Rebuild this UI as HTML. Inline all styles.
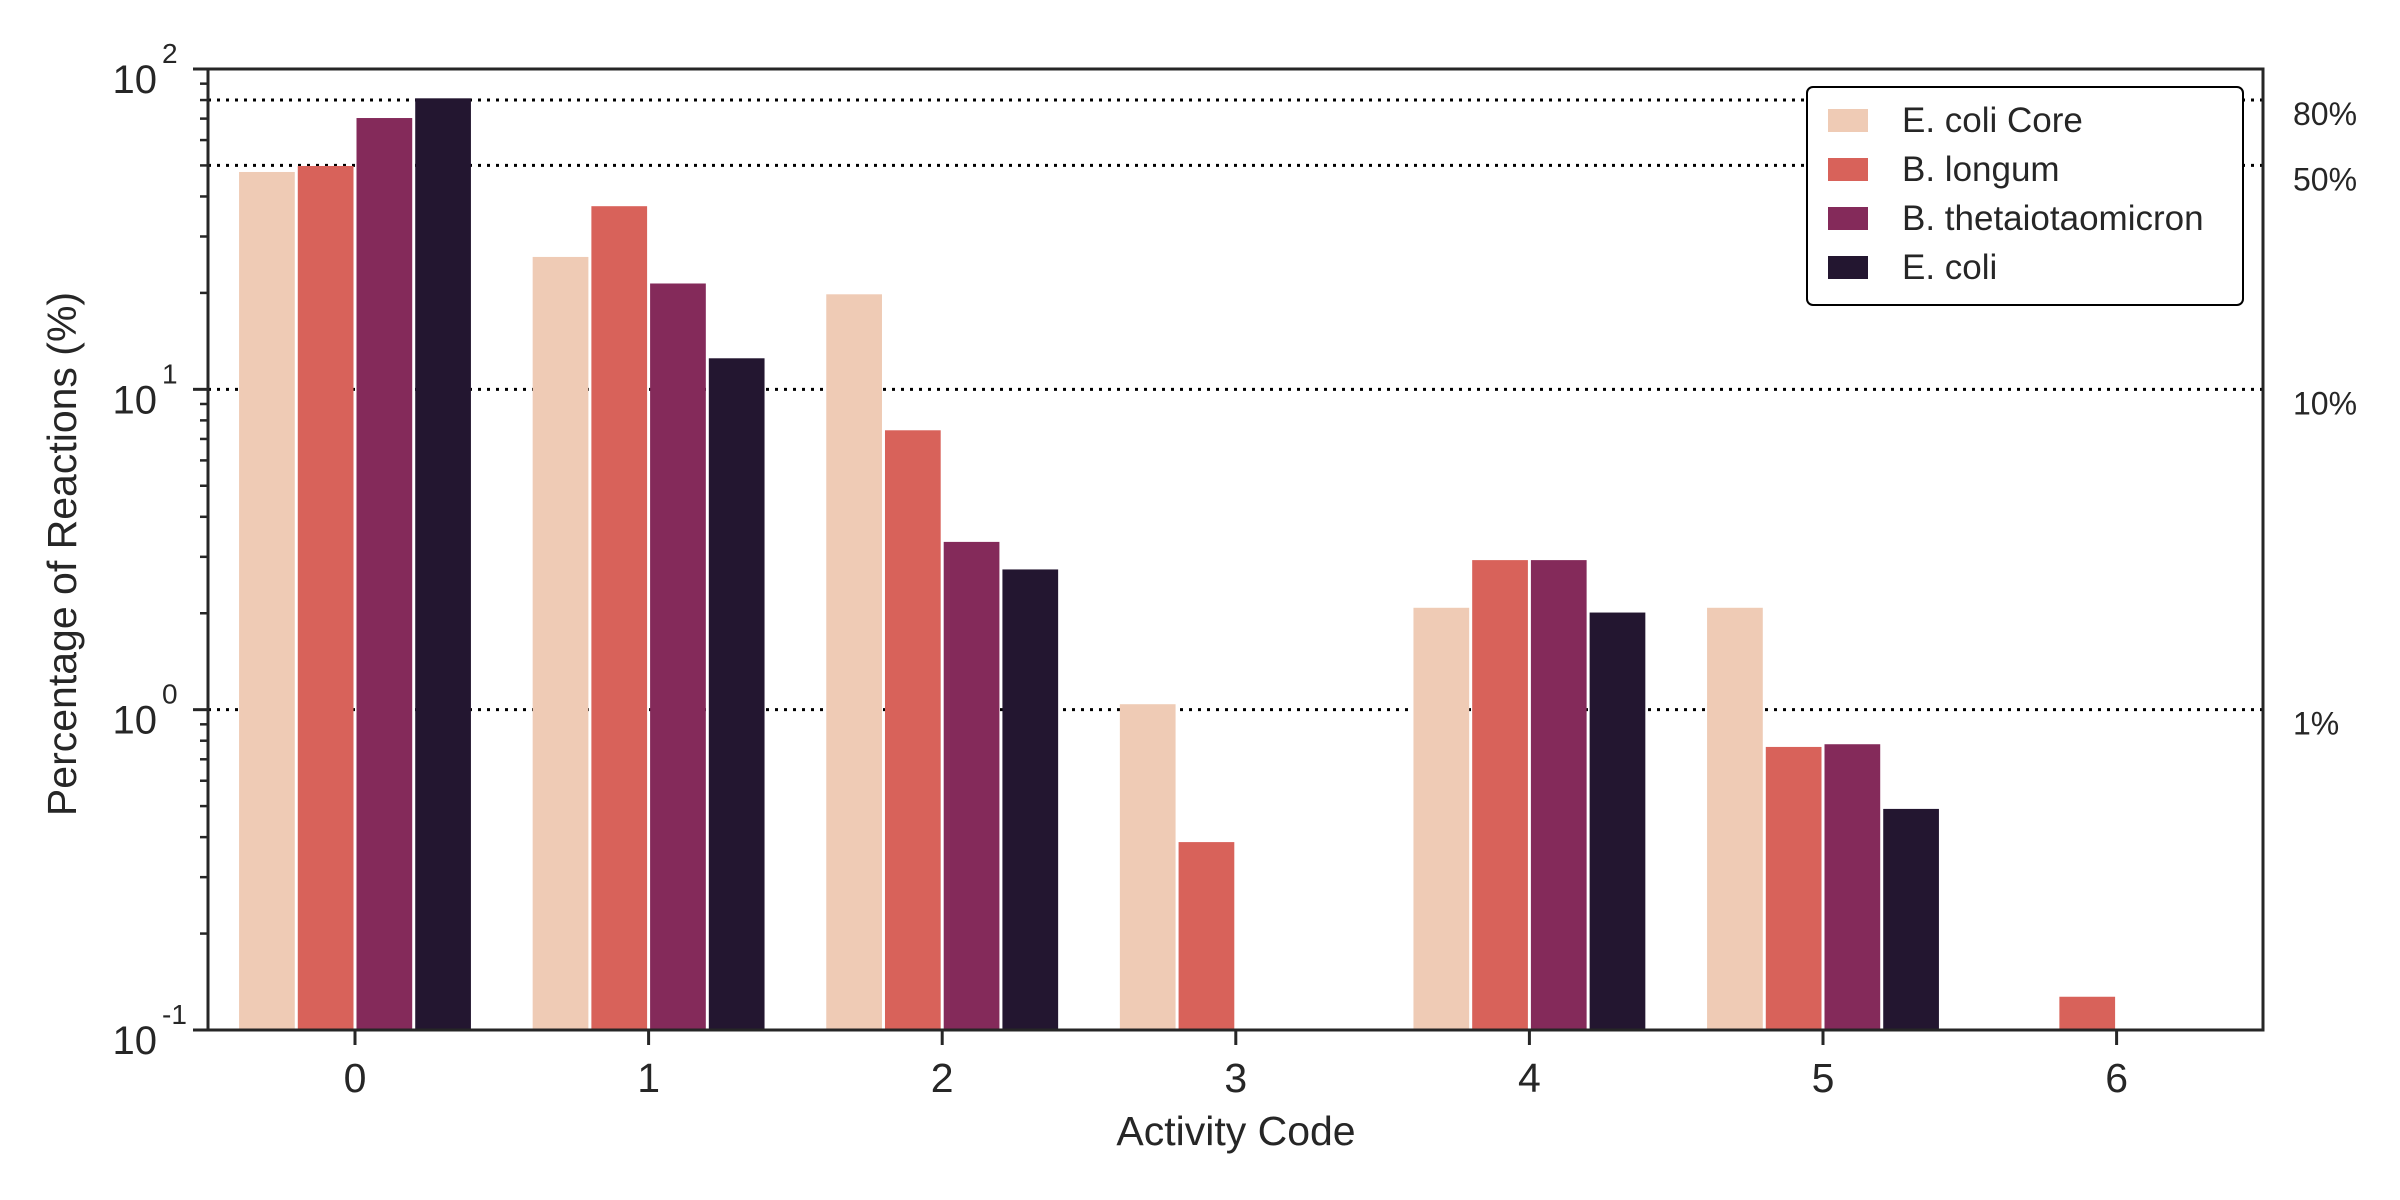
<!DOCTYPE html>
<html><head><meta charset="utf-8"><style>
html,body{margin:0;padding:0;background:#fff}
svg{display:block;font-family:"Liberation Sans",Arial,sans-serif}
</style></head><body>
<svg id="chart" width="2400" height="1200" viewBox="0 0 2400 1200" xmlns="http://www.w3.org/2000/svg">
<rect x="0" y="0" width="2400" height="1200" fill="#fff"/>
<g id="grid"></g><g id="bars"></g><g id="axes"></g><g id="legend"></g>
</svg>
<script>
const categories = ["0","1","2","3","4","5","6"];
const seriesNames = ["E. coli Core","B. longum","B. thetaiotaomicron","E. coli"];
const seriesColors = ["#efcbb5","#d8625a","#842a5a","#231630"];
const ecoliCore = [47.7, 25.9, 19.8, 1.04, 2.08, 2.08, 0];
const bLongum   = [49.8, 37.3, 7.45, 0.386, 2.93, 0.765, 0.127];
const bTheta    = [70.3, 21.4, 3.34, 0, 2.93, 0.78, 0];
const eColi     = [81.0, 12.5, 2.74, 0, 2.01, 0.49, 0];
const series = [ecoliCore, bLongum, bTheta, eColi];
const refLines = [80, 50, 10, 1];
const refLabels = ["80%","50%","10%","1%"];
const yDecades = [-1, 0, 1, 2];

const NS = "http://www.w3.org/2000/svg";
const L = 208, R = 2263, T = 69, B = 1030;
const x0 = 355, dx = 293.6;
function xScale(i){ return x0 + i*dx; }
function yScale(v){ return T + (2 - Math.log10(v)) / 3 * (B - T); }
function mk(tag, attrs, parent){ const e = document.createElementNS(NS, tag); for (const k in attrs) e.setAttribute(k, attrs[k]); parent.appendChild(e); return e; }
const grid = document.getElementById('grid'), barsG = document.getElementById('bars'), axes = document.getElementById('axes'), legend = document.getElementById('legend');
const AX = "#262626";

refLines.forEach((v, i) => {
  const y = yScale(v);
  const ln = mk('line', {x1:L, x2:R, y1:y, y2:y, stroke:'#000', 'stroke-width':3, 'stroke-dasharray':'3,6'}, grid);
  
  
  const t = mk('text', {x:2293, y:y+25, 'font-size':32, fill:AX}, grid);
  t.textContent = refLabels[i];
  
  
});

const bw = dx * 0.2;
series.forEach((vals, s) => {
  vals.forEach((v, i) => {
    if (!(v > 0)) return;
    const xl = xScale(i) - dx*0.4 + s*bw;
    const y = yScale(v);
    const r = mk('rect', {x:xl+1.5, y:y, width:bw-3, height:B-y, fill:seriesColors[s]}, barsG);
    
    
  });
});

const frame = mk('rect', {x:L, y:T, width:R-L, height:B-T, fill:'none', stroke:AX, 'stroke-width':3}, axes);



yDecades.forEach(d => {
  const y = yScale(Math.pow(10, d));
  mk('line', {x1:L-15, x2:L, y1:y, y2:y, stroke:AX, 'stroke-width':3}, axes);
  const t = mk('text', {x:157, y:y+24, 'font-size':40, fill:AX, 'text-anchor':'end'}, axes);
  t.textContent = '10';
  
  
  const sup = mk('text', {x:162, y:y-6, 'font-size':28, fill:AX}, axes);
  sup.textContent = String(d);
  
  
  if (d < 2) for (let m = 2; m <= 9; m++) {
    const ym = yScale(m * Math.pow(10, d));
    mk('line', {x1:L-8, x2:L, y1:ym, y2:ym, stroke:AX, 'stroke-width':2.5}, axes);
  }
});

categories.forEach((c, i) => {
  const x = xScale(i);
  mk('line', {x1:x, x2:x, y1:B, y2:B+15, stroke:AX, 'stroke-width':3}, axes);
  const t = mk('text', {x:x, y:1092, 'font-size':41, fill:AX, 'text-anchor':'middle'}, axes);
  t.textContent = c;
  
  
});

const xt = mk('text', {x:1236, y:1145, 'font-size':41, fill:AX, 'text-anchor':'middle'}, axes);
xt.textContent = 'Activity Code';


const yt = mk('text', {x:0, y:0, 'font-size':41, fill:AX, 'text-anchor':'middle', transform:'translate(76,554) rotate(-90)'}, axes);
yt.textContent = 'Percentage of Reactions (%)';



const lb = mk('rect', {x:1807, y:87, width:436, height:218, rx:6, fill:'#fff', stroke:'#000', 'stroke-width':2}, legend);


seriesNames.forEach((n, s) => {
  const cy = 120 + s*49;
  const sw = mk('rect', {x:1828, y:cy-11, width:40, height:23, fill:seriesColors[s]}, legend);
  
  
  const t = mk('text', {x:1902, y:cy+12, 'font-size':35, fill:AX}, legend);
  t.textContent = n;
  
  
});
</script>
</body></html>
